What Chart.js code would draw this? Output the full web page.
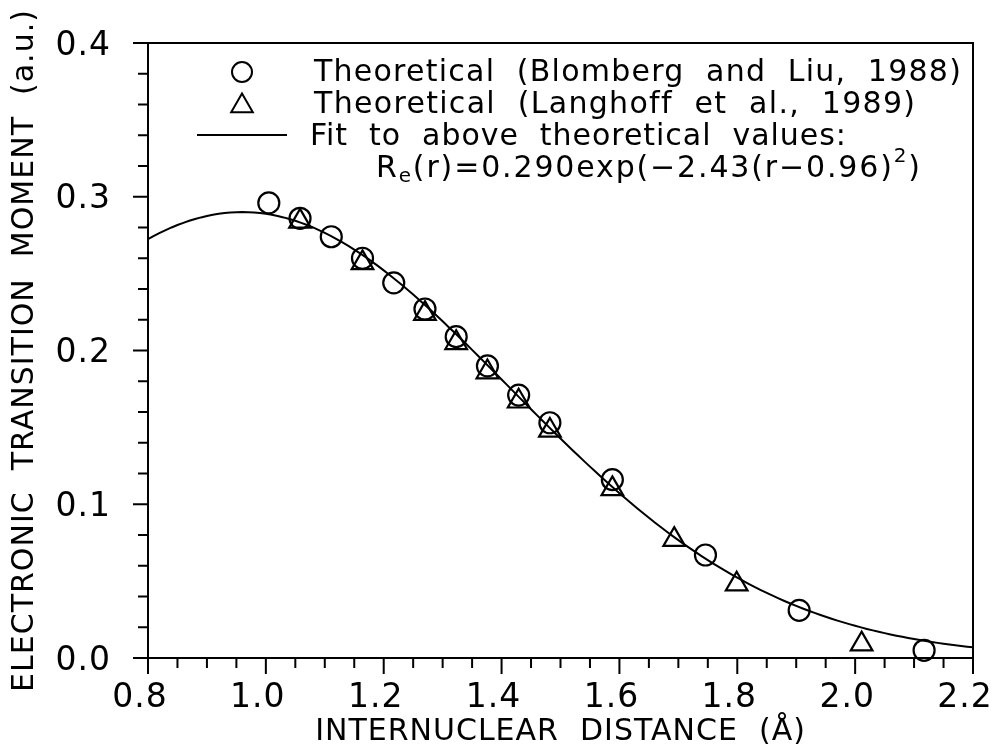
<!DOCTYPE html>
<html>
<head>
<meta charset="utf-8">
<script src="https://cdn.jsdelivr.net/npm/chart.js@4/dist/chart.umd.min.js"></script>
<style>
  html, body { margin: 0; padding: 0; background: #ffffff; }
  #wrap { width: 1000px; height: 750px; position: relative; }
</style>
</head>
<body>
<div id="wrap"><canvas id="c" width="1000" height="750"></canvas></div>
<script>
// Electronic transition moment vs internuclear distance (Å)
const blombergR = [1.005, 1.058, 1.111, 1.164, 1.217, 1.270, 1.323, 1.376, 1.429, 1.482, 1.588, 1.746, 1.905, 2.117];
const blombergM = [0.296, 0.286, 0.274, 0.260, 0.244, 0.227, 0.209, 0.190, 0.171, 0.153, 0.116, 0.067, 0.031, 0.005];

const langhoffR = [1.058, 1.164, 1.270, 1.323, 1.376, 1.429, 1.482, 1.588, 1.693, 1.799, 2.011];
const langhoffM = [0.284, 0.257, 0.224, 0.205, 0.186, 0.167, 0.148, 0.110, 0.077, 0.048, 0.009];

// Gaussian fit parameters, as quoted in the legend
const fitAmp = 0.290;
const fitWidth = 2.43;
const fitCentre = 0.96;

const xMajorTicks = [0.8, 1.0, 1.2, 1.4, 1.6, 1.8, 2.0, 2.2];
const xTickLabels = ['0.8', '1.0', '1.2', '1.4', '1.6', '1.8', '2.0', '2.2'];
const yMajorTicks = [0.0, 0.1, 0.2, 0.3, 0.4];
const yTickLabels = ['0.0', '0.1', '0.2', '0.3', '0.4'];
const xMinorStep = 0.05;
const yMinorStep = 0.02;

const FONT = '"DejaVu Sans", "Liberation Sans", sans-serif';
const WEIGHT = 400;

function toPoints(xs, ys) { return xs.map((x, i) => ({ x: x, y: ys[i] })); }

// Sample the quoted fit over the axis range
const fitPoints = [];
for (let i = 0; i <= 140; i++) {
  const r = 0.8 + i * 0.01;
  fitPoints.push({ x: r, y: fitAmp * Math.exp(-fitWidth * (r - fitCentre) * (r - fitCentre)) });
}

function tickList(min, max, step) {
  const out = [];
  const n = Math.round((max - min) / step);
  for (let i = 0; i <= n; i++) out.push({ value: +(min + i * step).toFixed(4) });
  return out;
}
function labelFor(value, majors, labels) {
  const k = majors.findIndex(m => Math.abs(m - value) < 1e-6);
  return k >= 0 ? labels[k] : '';
}
function isMajor(value, majors) {
  return majors.some(m => Math.abs(m - value) < 1e-6);
}

// Slightly open letter spacing for all chart text
const spacingPlugin = {
  id: 'spacing',
  beforeDraw(chart) { chart.ctx.letterSpacing = '1px'; }
};

// Frame around the plot plus outward tick marks (long for labelled ticks)
const framePlugin = {
  id: 'frame',
  afterDraw(chart) {
    const { ctx, chartArea: a, scales } = chart;
    ctx.save();
    ctx.strokeStyle = '#000';
    ctx.lineWidth = 2;
    ctx.strokeRect(a.left, a.top, a.right - a.left, a.bottom - a.top);
    ctx.beginPath();
    scales.x.ticks.forEach(t => {
      const px = scales.x.getPixelForValue(t.value);
      const len = isMajor(t.value, xMajorTicks) ? 16 : 10;
      ctx.moveTo(px, a.bottom);
      ctx.lineTo(px, a.bottom + len);
    });
    scales.y.ticks.forEach(t => {
      const py = scales.y.getPixelForValue(t.value);
      const len = isMajor(t.value, yMajorTicks) ? 15 : 10;
      ctx.moveTo(a.left, py);
      ctx.lineTo(a.left - len, py);
    });
    ctx.stroke();
    ctx.restore();
  }
};

// Draw one legend line spread to a given width
function spreadText(ctx, text, x, y, width) {
  ctx.letterSpacing = '0px';
  const natural = ctx.measureText(text).width;
  const extra = Math.max(0, (width - natural) / text.length);
  ctx.letterSpacing = extra.toFixed(2) + 'px';
  ctx.fillText(text, x, y);
  return extra;
}

// Legend block inside the plot
const legendPlugin = {
  id: 'fitLegend',
  afterDraw(chart) {
    const ctx = chart.ctx;
    ctx.save();
    ctx.fillStyle = '#000';
    ctx.strokeStyle = '#000';
    ctx.lineWidth = 2;
    ctx.textBaseline = 'middle';
    ctx.textAlign = 'left';
    const big = WEIGHT + ' 30px ' + FONT;
    const small = WEIGHT + ' 20px ' + FONT;
    ctx.font = big;

    // circle sample
    ctx.beginPath();
    ctx.arc(242, 72, 10, 0, Math.PI * 2);
    ctx.stroke();
    spreadText(ctx, 'Theoretical  (Blomberg  and  Liu,  1988)', 314, 73, 648);

    // triangle sample
    const tr = 12.5, tx = 242, ty = 106;
    ctx.beginPath();
    for (let k = 0; k < 3; k++) {
      const ang = k * 2 * Math.PI / 3;
      const px = tx + Math.sin(ang) * tr, py = ty - Math.cos(ang) * tr;
      if (k === 0) ctx.moveTo(px, py); else ctx.lineTo(px, py);
    }
    ctx.closePath();
    ctx.stroke();
    spreadText(ctx, 'Theoretical  (Langhoff  et  al.,  1989)', 314, 105, 602);

    // line sample
    ctx.beginPath();
    ctx.moveTo(197, 135);
    ctx.lineTo(287, 135);
    ctx.stroke();
    spreadText(ctx, 'Fit  to  above  theoretical  values:', 310, 137, 537);

    // formula with subscript and superscript
    const y = 169;
    const mid = '(r)=0.' + fitAmp.toFixed(3).slice(2) + 'exp(\u2212' + fitWidth.toFixed(2) + '(r\u2212' + fitCentre.toFixed(2) + ')';
    ctx.letterSpacing = '0px';
    let natural = ctx.measureText('R' + mid + ')').width;
    ctx.font = small;
    natural += ctx.measureText('e2').width;
    const sp = Math.max(0, (546 - natural) / (mid.length + 4));
    ctx.letterSpacing = sp.toFixed(2) + 'px';
    let x = 376;
    ctx.font = big;
    ctx.fillText('R', x, y); x += ctx.measureText('R').width;
    ctx.font = small;
    ctx.fillText('e', x, y + 8); x += ctx.measureText('e').width;
    ctx.font = big;
    ctx.fillText(mid, x, y); x += ctx.measureText(mid).width;
    ctx.font = small;
    ctx.fillText('2', x, y - 12); x += ctx.measureText('2').width;
    ctx.font = big;
    ctx.fillText(')', x, y);
    ctx.restore();
  }
};

new Chart(document.getElementById('c'), {
  type: 'scatter',
  data: {
    datasets: [
      {
        label: 'Theoretical (Blomberg and Liu, 1988)',
        data: toPoints(blombergR, blombergM),
        pointStyle: 'circle',
        pointRadius: 10.5,
        pointBorderWidth: 2.2,
        borderColor: '#000',
        backgroundColor: 'rgba(0,0,0,0)',
        clip: false,
        order: 1
      },
      {
        label: 'Theoretical (Langhoff et al., 1989)',
        data: toPoints(langhoffR, langhoffM),
        pointStyle: 'triangle',
        pointRadius: 12.5,
        pointBorderWidth: 2.2,
        borderColor: '#000',
        backgroundColor: 'rgba(0,0,0,0)',
        clip: false,
        order: 2
      },
      {
        label: 'Fit to above theoretical values',
        type: 'line',
        data: fitPoints,
        showLine: true,
        pointRadius: 0,
        borderColor: '#000',
        borderWidth: 2,
        tension: 0,
        fill: false,
        order: 3
      }
    ]
  },
  options: {
    responsive: false,
    animation: false,
    layout: { autoPadding: false, padding: { left: 0, right: 27, top: 43, bottom: 0 } },
    plugins: {
      legend: { display: false },
      tooltip: { enabled: false }
    },
    scales: {
      x: {
        type: 'linear',
        min: 0.8,
        max: 2.2,
        afterBuildTicks: s => { s.ticks = tickList(0.8, 2.2, xMinorStep); },
        afterFit: s => { s.height = 92; },
        // tick marks are drawn by the frame plugin; these only space the labels
        grid: { display: true, drawOnChartArea: false, drawTicks: true, tickLength: 21, tickColor: 'rgba(0,0,0,0)', color: 'rgba(0,0,0,0)' },
        border: { display: false },
        ticks: {
          autoSkip: false,
          maxRotation: 0,
          padding: 0,
          labelOffset: -8,
          color: '#000',
          font: { family: FONT, size: 33, weight: WEIGHT },
          callback: v => labelFor(v, xMajorTicks, xTickLabels)
        },
        title: {
          display: true,
          text: 'INTERNUCLEAR  DISTANCE  (Å)',
          color: '#000',
          font: { family: FONT, size: 30, weight: WEIGHT },
          padding: { top: 1, bottom: 0 }
        }
      },
      y: {
        type: 'linear',
        min: 0,
        max: 0.4,
        afterBuildTicks: s => { s.ticks = tickList(0, 0.4, yMinorStep); },
        afterFit: s => { s.width = 148; },
        grid: { display: true, drawOnChartArea: false, drawTicks: true, tickLength: 37, tickColor: 'rgba(0,0,0,0)', color: 'rgba(0,0,0,0)' },
        border: { display: false },
        ticks: {
          autoSkip: false,
          padding: 0,
          labelOffset: 3,
          color: '#000',
          font: { family: FONT, size: 33, weight: WEIGHT },
          callback: v => labelFor(v, yMajorTicks, yTickLabels)
        },
        title: {
          display: true,
          text: 'ELECTRONIC  TRANSITION  MOMENT  (a.u.)',
          color: '#000',
          font: { family: FONT, size: 30, weight: WEIGHT },
          padding: { top: 7, bottom: 0 }
        }
      }
    }
  },
  plugins: [spacingPlugin, framePlugin, legendPlugin]
});
</script>
</body>
</html>
